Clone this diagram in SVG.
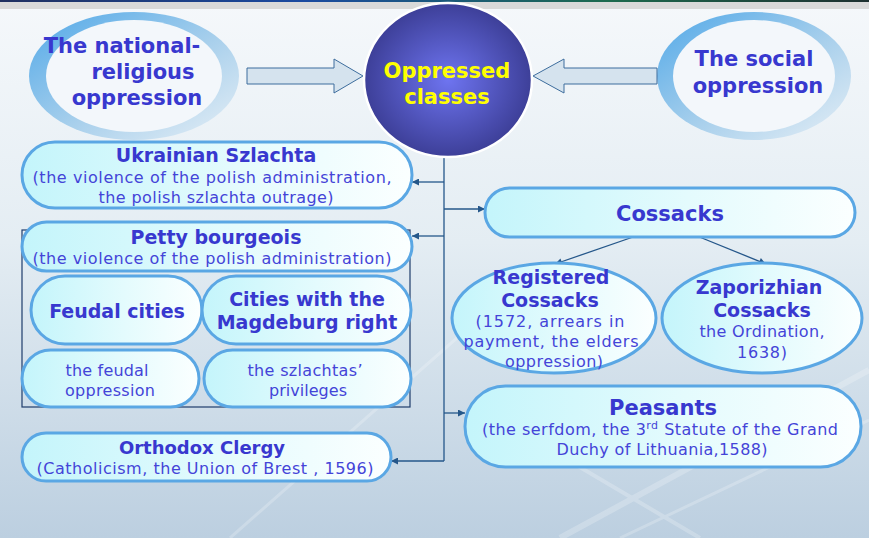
<svg xmlns="http://www.w3.org/2000/svg" width="869" height="538" viewBox="0 0 869 538">
<defs>
<linearGradient id="bg" x1="0" y1="0" x2="0" y2="1">
<stop offset="0" stop-color="#f5f8fb"/>
<stop offset="0.45" stop-color="#e4edf3"/>
<stop offset="1" stop-color="#bccfe0"/>
</linearGradient>
<linearGradient id="topbar" x1="0" y1="0" x2="1" y2="0">
<stop offset="0" stop-color="#203060"/>
<stop offset="0.35" stop-color="#1a4aa0"/>
<stop offset="0.7" stop-color="#1d6a4e"/>
<stop offset="1" stop-color="#1e3030"/>
</linearGradient>
<linearGradient id="ring" x1="0" y1="0" x2="1" y2="1">
<stop offset="0" stop-color="#50a8e8"/>
<stop offset="0.55" stop-color="#a9d0ec"/>
<stop offset="1" stop-color="#e6eff6"/>
</linearGradient>
<radialGradient id="ball" cx="0.5" cy="0.5" r="0.5">
<stop offset="0" stop-color="#6e74f0"/>
<stop offset="1" stop-color="#3d3f98"/>
</radialGradient>
<linearGradient id="pill" x1="0" y1="0" x2="1" y2="0">
<stop offset="0" stop-color="#c4f5fb"/>
<stop offset="0.55" stop-color="#e4fbfd"/>
<stop offset="1" stop-color="#fbffff"/>
</linearGradient>
<marker id="ah" viewBox="0 0 10 10" refX="10" refY="5" markerWidth="8" markerHeight="7" markerUnits="userSpaceOnUse" orient="auto">
<path d="M0,0 L10,5 L0,10 z" fill="#25578a"/>
</marker>
<style>
.pill{fill:url(#pill);stroke:#5aa7e4;stroke-width:3}
.ringo{fill:url(#ring)}
.ringi{fill:#f3f7fb}
.blk{fill:#d5e3ee;stroke:#3d6d9d;stroke-width:1}
.b{font-family:"DejaVu Sans",Verdana,sans-serif;font-weight:bold;fill:#3838cf;text-anchor:middle}
.r{font-family:"DejaVu Sans",Verdana,sans-serif;font-size:16px;fill:#4444d8;text-anchor:middle}
.y{font-family:"DejaVu Sans",Verdana,sans-serif;font-weight:bold;font-size:21px;fill:#ffff00;text-anchor:middle}
.con{fill:none;stroke:#25578a;stroke-width:1.3}
.frame{fill:none;stroke:#1e3c6c;stroke-width:1.2}
</style>
</defs>

<rect x="0" y="0" width="869" height="538" fill="url(#bg)"/>
<g opacity="0.22" stroke="#ffffff" fill="none">
<path d="M560,538 L869,370" stroke-width="6"/>
<path d="M620,538 L869,420" stroke-width="3"/>
<path d="M230,538 L500,300" stroke-width="3"/>
<path d="M700,538 L500,420" stroke-width="4"/>
</g>
<rect x="0" y="0" width="869" height="9" fill="#d9d9d9"/>
<rect x="0" y="0" width="869" height="2" fill="url(#topbar)"/>

<g id="national-religious">
<ellipse class="ringo" cx="134" cy="76" rx="105" ry="64"/>
<ellipse class="ringi" cx="134" cy="76" rx="88" ry="56"/>
<text class="b" font-size="21" x="122" y="53">The national-</text>
<text class="b" font-size="21" x="143" y="79">religious</text>
<text class="b" font-size="21" x="137" y="105">oppression</text>
</g>

<g id="social">
<ellipse class="ringo" cx="754" cy="76" rx="97" ry="64"/>
<ellipse class="ringi" cx="754" cy="76" rx="81" ry="56"/>
<text class="b" font-size="21" x="754" y="66">The social</text>
<text class="b" font-size="21" x="758" y="93">oppression</text>
</g>

<g id="block-arrows">
<polygon class="blk" points="247,68 334,68 334,59 363,76 334,93 334,84 247,84"/>
<polygon class="blk" points="657,68 564,68 564,59 533,76 564,93 564,84 657,84"/>
</g>

<g id="connectors">
<path class="con" d="M444,156 L444,461"/>
<path class="con" d="M444,182 L412,182" marker-end="url(#ah)"/>
<path class="con" d="M444,209 L485,209" marker-end="url(#ah)"/>
<path class="con" d="M444,236 L412,236" marker-end="url(#ah)"/>
<path class="con" d="M444,413 L465,413" marker-end="url(#ah)"/>
<path class="con" d="M444,461 L391,461" marker-end="url(#ah)"/>
<path class="con" d="M636,236 L555,264" marker-end="url(#ah)"/>
<path class="con" d="M697,236 L766,264" marker-end="url(#ah)"/>
</g>

<g id="oppressed-classes">
<ellipse cx="448" cy="80" rx="84" ry="77" fill="url(#ball)" stroke="#ffffff" stroke-width="2.5"/>
<text class="y" x="447" y="78">Oppressed</text>
<text class="y" x="447" y="104">classes</text>
</g>

<g id="ukrainian-szlachta">
<rect class="pill" x="22" y="142" width="390" height="66" rx="33"/>
<text class="b" font-size="19" x="216" y="162">Ukrainian Szlachta</text>
<text class="r" x="212" y="183" textLength="359">(the violence of  the polish administration,</text>
<text class="r" x="216" y="203" textLength="235">the polish szlachta outrage)</text>
</g>

<g id="petty-frame">
<rect class="frame" x="22" y="230" width="388" height="177"/>
</g>

<g id="petty-bourgeois">
<rect class="pill" x="22" y="222" width="390" height="49" rx="24.5"/>
<text class="b" font-size="19" x="216" y="244">Petty bourgeois</text>
<text class="r" x="212" y="264" textLength="359">(the violence of  the polish administration)</text>
</g>

<g id="feudal-cities">
<rect class="pill" x="31" y="276" width="171" height="68" rx="34"/>
<text class="b" font-size="19" x="117" y="318">Feudal cities</text>
</g>

<g id="magdeburg-cities">
<rect class="pill" x="202" y="276" width="209" height="68" rx="34"/>
<text class="b" font-size="19" x="307" y="306">Cities with the</text>
<text class="b" font-size="19" x="307" y="329">Magdeburg right</text>
</g>

<g id="feudal-oppression">
<rect class="pill" x="22" y="350" width="177" height="57" rx="28.5"/>
<text class="r" x="107" y="376" textLength="83">the feudal</text>
<text class="r" x="110" y="396" textLength="90">oppression</text>
</g>

<g id="szlachtas-privileges">
<rect class="pill" x="204" y="350" width="207" height="57" rx="28.5"/>
<text class="r" x="305" y="376" textLength="115">the szlachtas’</text>
<text class="r" x="308" y="396" textLength="78">privileges</text>
</g>

<g id="orthodox-clergy">
<rect class="pill" x="22" y="433" width="369" height="48" rx="24"/>
<text class="b" font-size="18" x="202" y="454">Orthodox Clergy</text>
<text class="r" x="205" y="474" textLength="337">(Catholicism, the Union of Brest , 1596)</text>
</g>

<g id="cossacks">
<rect class="pill" x="485" y="188" width="370" height="49" rx="24.5"/>
<text class="b" font-size="21" x="670" y="221">Cossacks</text>
</g>

<g id="registered-cossacks">
<ellipse class="pill" cx="554" cy="318" rx="102" ry="55"/>
<text class="b" font-size="19" x="551" y="284">Registered</text>
<text class="b" font-size="19" x="550" y="307">Cossacks</text>
<text class="r" x="550" y="327" textLength="149">(1572, arrears  in</text>
<text class="r" x="551" y="347" textLength="175">payment,  the elders</text>
<text class="r" x="554" y="367" textLength="98">oppression)</text>
</g>

<g id="zaporizhian-cossacks">
<ellipse class="pill" cx="762" cy="318" rx="100" ry="55"/>
<text class="b" font-size="19" x="759" y="294">Zaporizhian</text>
<text class="b" font-size="19" x="762" y="317">Cossacks</text>
<text class="r" x="762" y="337" textLength="125">the Ordination,</text>
<text class="r" x="762" y="358" textLength="50">1638)</text>
</g>

<g id="peasants">
<rect class="pill" x="465" y="386" width="396" height="81" rx="40.5"/>
<text class="b" font-size="21" x="663" y="415">Peasants</text>
<text class="r" x="660" y="435" textLength="356">(the serfdom, the 3<tspan font-size="11" dy="-6">rd</tspan><tspan dy="6"> Statute of the Grand</tspan></text>
<text class="r" x="662" y="455" textLength="211">Duchy of Lithuania,1588)</text>
</g>
</svg>
